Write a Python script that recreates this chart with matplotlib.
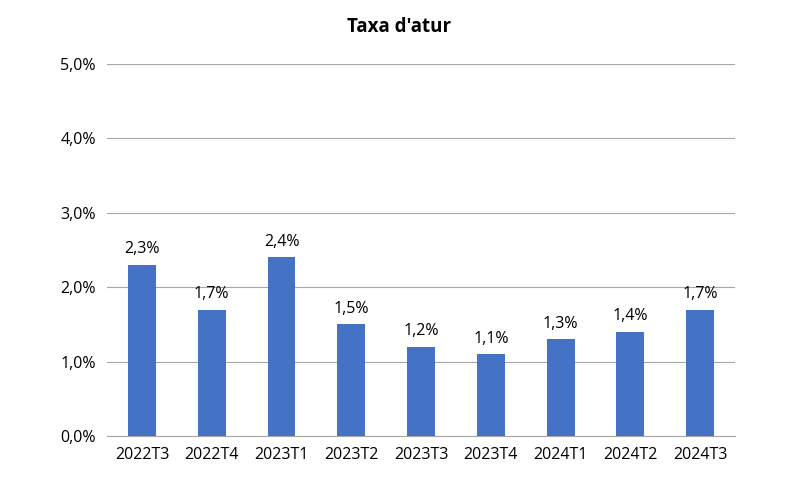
import matplotlib
matplotlib.use("Agg")
import matplotlib.pyplot as plt
from matplotlib.ticker import FuncFormatter

categories = ["2022T3","2022T4","2023T1","2023T2","2023T3","2023T4","2024T1","2024T2","2024T3"]
values = [2.3, 1.7, 2.4, 1.5, 1.2, 1.1, 1.3, 1.4, 1.7]

plt.rcParams['font.family'] = ['Open Sans', 'DejaVu Sans']
fig = plt.figure(figsize=(7.99, 4.96), dpi=100)
ax = fig.add_axes([0.134, 0.121, 0.786, 0.750])
x = range(len(categories))
ax.bar(x, values, width=0.4, color="#4472C4", zorder=3)
for i, v in zip(x, values):
    ax.text(i, v + 0.1, f"{v:.1f}%".replace(".", ","), ha="center", va="bottom", fontsize=11.5)
ax.set_ylim(0, 5)
ax.set_xlim(-0.5, len(categories) - 0.5)
ax.set_yticks([0, 1, 2, 3, 4, 5])
ax.yaxis.set_major_formatter(FuncFormatter(lambda v, p: f"{v:.1f}%".replace(".", ",")))
ax.set_xticks(list(x))
ax.set_xticklabels(categories)
ax.tick_params(axis="both", length=0, labelsize=11.5, pad=8)
ax.grid(axis="y", color="#a6a6a6", linewidth=0.8, zorder=0)
for s in ["top", "right", "left"]:
    ax.spines[s].set_visible(False)
ax.spines["bottom"].set_color("#a6a6a6")
fig.text(0.5, 0.945, "Taxa d'atur", ha="center", va="center", fontsize=13.5, fontweight="bold")
fig.savefig("out.png", dpi=100)
